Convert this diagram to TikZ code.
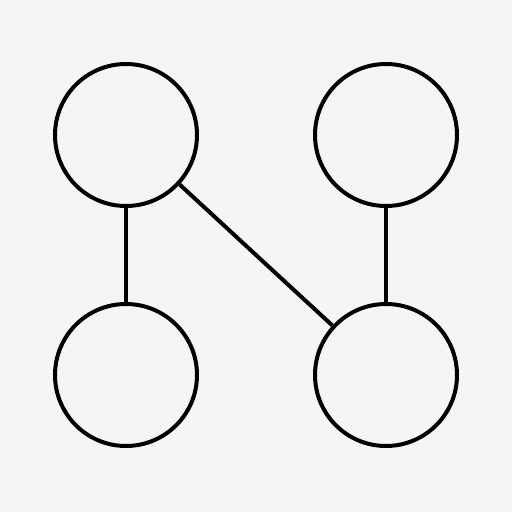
\documentclass[tikz,border=0pt]{standalone}
\definecolor{bg}{HTML}{F5F5F5}
\begin{document}
\begin{tikzpicture}[x=1pt,y=-1pt,
  ring/.style={circle,draw=black,line width=4pt,minimum size=142pt,inner sep=0pt},
  link/.style={draw=black,line width=4pt}]
\fill[bg] (0,0) rectangle (512,512);
\useasboundingbox (0,0) rectangle (512,512);
\node[ring] (tl) at (126,135) {};
\node[ring] (tr) at (386,135) {};
\node[ring] (bl) at (126,375) {};
\node[ring] (br) at (386,375) {};
\draw[link] (tl) -- (bl);
\draw[link] (tr) -- (br);
\draw[link] (tl) -- (br);
\end{tikzpicture}
\end{document}
